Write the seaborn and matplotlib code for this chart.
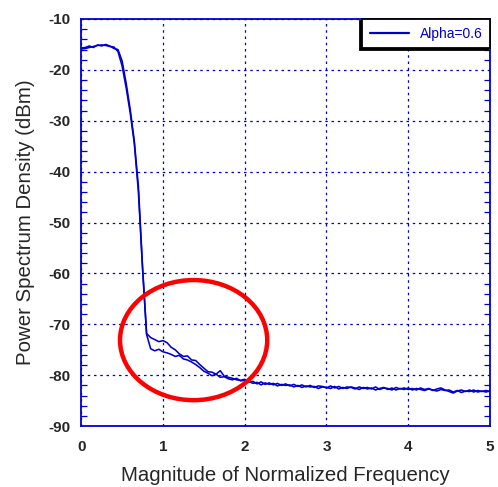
import numpy as np
import pandas as pd
import matplotlib
matplotlib.use("Agg")
import matplotlib.pyplot as plt
from matplotlib.patches import Ellipse
import seaborn as sns

# ── Data ────────────────────────────────────────────────────
freq = np.round(np.arange(0, 101) * 0.05, 2)   # normalized frequency 0 .. 5

psd_a = [
    -15.9, -15.8, -15.6, -15.4, -15.2, -15.1, -15.2, -15.4, -15.5, -16.4,
    -19.2, -23.5, -28.5, -34.5, -44.0, -59.0, -71.8, -72.6, -73.0, -73.4,
    -73.2, -73.6, -74.5, -75.0, -75.8, -76.3, -76.2, -77.0, -77.1, -77.9,
    -78.6, -79.3, -79.4, -79.8, -79.1, -80.2, -80.4, -80.6, -80.9, -81.0,
    -80.8,
    -81.4, -81.2, -81.7, -81.3, -81.8, -81.5, -81.9, -81.6, -82.0, -81.7,
    -82.1, -81.8, -82.2, -81.9, -82.3, -82.0, -82.4, -82.1, -82.2, -82.5,
    -82.1, -82.5, -82.2, -82.6, -82.3, -82.4, -82.7, -82.3, -82.6, -82.4,
    -82.7, -82.3, -82.8, -82.5, -82.6, -82.9, -82.4, -82.7, -82.5, -82.8,
    -82.6, -82.9, -82.5, -82.8, -82.6, -83.0, -82.7, -82.5, -82.9, -83.2,
    -83.5, -83.1, -82.9, -83.2, -82.9, -83.3, -83.0, -83.2, -83.0, -83.2,
]

psd_b = [
    -15.7, -15.6, -15.3, -15.6, -15.1, -15.3, -15.0, -15.3, -15.8, -16.0,
    -18.2, -22.6, -27.8, -34.0, -43.0, -58.5, -72.0, -74.8, -75.2, -74.9,
    -75.4, -75.6, -75.9, -76.3, -76.1, -76.8, -77.0, -77.4, -77.9, -78.5,
    -79.2, -79.6, -80.1, -79.8, -80.4, -80.3, -80.7, -80.9, -80.6, -81.1,
    -81.0,
    -81.2, -81.6, -81.4, -81.9, -81.5, -81.8, -81.6, -82.1, -81.8, -82.0,
    -81.9, -82.3, -82.0, -82.4, -82.1, -82.3, -82.2, -82.6, -82.3, -82.4,
    -82.6, -82.2, -82.7, -82.4, -82.6, -82.3, -82.5, -82.8, -82.4, -82.7,
    -82.5, -82.9, -82.6, -82.4, -82.8, -82.5, -82.9, -82.6, -82.8, -82.5,
    -82.9, -82.6, -82.8, -83.0, -82.7, -82.9, -83.1, -82.8, -83.0, -82.9,
    -83.3, -83.0, -83.4, -83.1, -83.2, -82.9, -83.3, -83.1, -83.3, -83.1,
]

x_ticks = [0, 1, 2, 3, 4, 5]
y_ticks = [-90, -80, -70, -60, -50, -40, -30, -20, -10]

# highlighted region (red ellipse)
ell_center = (1.375, -73.1)
ell_width = 1.80
ell_height = 23.6

# ── Setup ───────────────────────────────────────────────────
sns.set_style("white")
plt.rcParams["font.family"] = ["Liberation Sans", "DejaVu Sans"]
plt.rcParams["axes.unicode_minus"] = False
BLUE = "#0000cc"

df = pd.DataFrame({"freq": freq, "a": psd_a, "b": psd_b})

fig = plt.figure(figsize=(4.98, 4.87), dpi=100)
ax = fig.add_axes([0.163, 0.125, 0.821, 0.836])

sns.lineplot(data=df, x="freq", y="b", ax=ax, color=BLUE, lw=1.15)
sns.lineplot(data=df, x="freq", y="a", ax=ax, color=BLUE, lw=1.15,
             label="Alpha=0.6")

ax.set_xlim(0, 5)
ax.set_ylim(-90, -10)
ax.set_xticks(x_ticks)
ax.set_yticks(y_ticks)
ax.set_yticks(np.arange(-90, -10, 2), minor=True)

ax.grid(True, which="major", color=BLUE, linestyle=(0, (2, 3)), lw=0.9)
for s in ax.spines.values():
    s.set_color(BLUE)
    s.set_linewidth(1.3)

ax.tick_params(axis="both", which="major", direction="in", color=BLUE,
               length=0, labelsize=11)
ax.tick_params(axis="x", which="major", pad=10)
ax.tick_params(axis="y", which="major", pad=8)
ax.tick_params(axis="y", which="minor", direction="in", color=BLUE,
               length=4, width=0.9, left=True, right=True)
for lbl in ax.get_xticklabels() + ax.get_yticklabels():
    lbl.set_fontweight("bold")

ax.set_xlabel("Magnitude of Normalized Frequency", fontsize=14.7)
ax.set_ylabel("Power Spectrum Density (dBm)", fontsize=14.7)
ax.xaxis.set_label_coords(0.5, -0.098)
ax.yaxis.set_label_coords(-0.112, 0.5)

ax.add_patch(Ellipse(ell_center, ell_width, ell_height, fill=False,
                     edgecolor="#ff0000", lw=3.2, zorder=5))

leg = ax.legend(loc="upper right", borderaxespad=0.0, fancybox=False,
                edgecolor="black", fontsize=10, handlelength=2.8,
                borderpad=0.55,
                shadow={"ox": -1.5, "oy": -1.5, "color": "black", "alpha": 1},
                framealpha=1)
leg.get_frame().set_linewidth(1.3)
for t in leg.get_texts():
    t.set_color(BLUE)
for h in leg.get_lines():
    h.set_linewidth(1.6)

plt.savefig("out.png", dpi=100)
plt.close()
